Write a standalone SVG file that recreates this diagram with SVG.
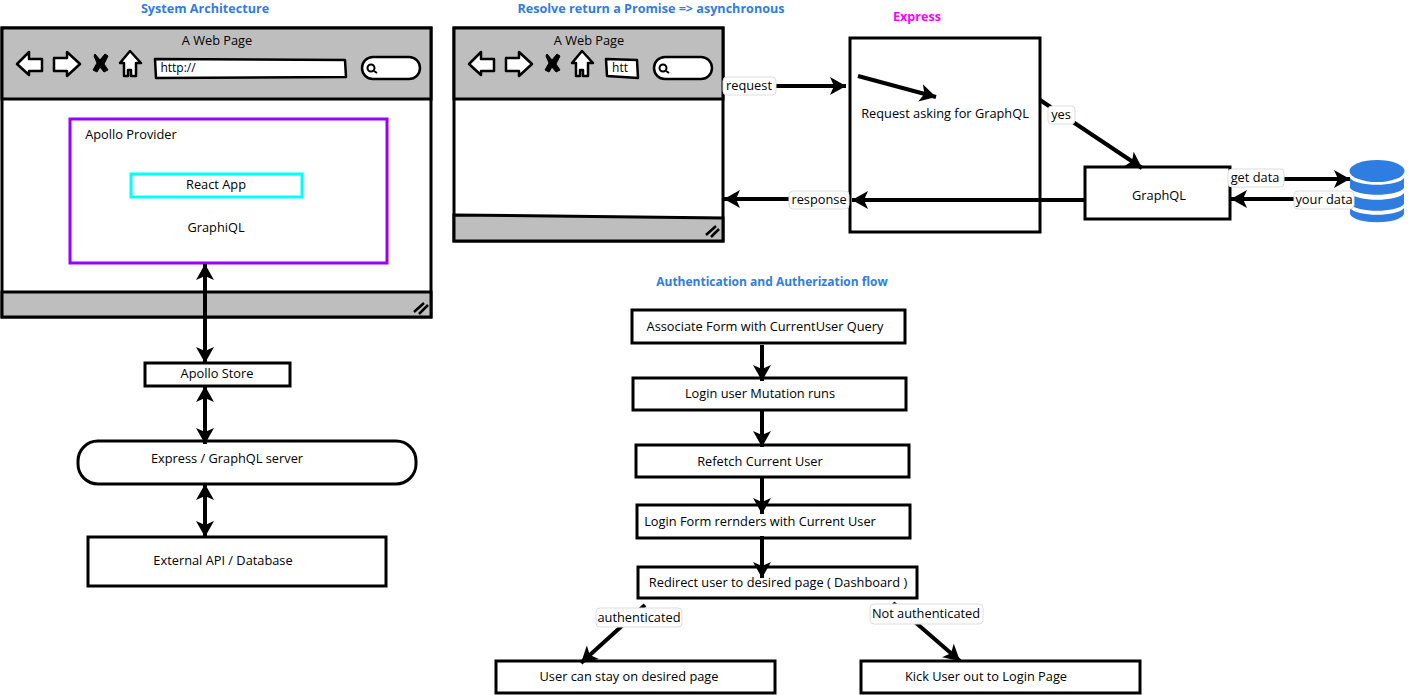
<svg xmlns="http://www.w3.org/2000/svg" width="1409" height="695" viewBox="0 0 1409 695">
<style>
text{font-family:"Open Sans","Liberation Sans",sans-serif;font-size:12.8px;fill:#000;text-anchor:middle}
.t{font-weight:700;fill:#2f7de1;font-size:12.6px}
.b{fill:#fff;stroke:#000;stroke-width:3}
.g{fill:#bebebe;stroke:#000;stroke-width:3}
.c{fill:none;stroke:#000;stroke-width:4;marker-end:url(#a)}
.d{fill:none;stroke:#000;stroke-width:4;marker-end:url(#a);marker-start:url(#s)}
.p{fill:#fff;stroke:#ddd;stroke-width:1}
.i{fill:#fff;stroke:#000;stroke-width:2.5;stroke-linejoin:round}
</style>
<defs>
<marker id="a" markerUnits="userSpaceOnUse" markerWidth="18" markerHeight="20" refX="16" refY="9" orient="auto"><path d="M0 0L16 9L0 18L4 9Z" fill="#000"/></marker>
<marker id="s" markerUnits="userSpaceOnUse" markerWidth="18" markerHeight="20" refX="0" refY="9" orient="auto"><path d="M16 0L0 9L16 18L12 9Z" fill="#000"/></marker>
<g id="nav">
<path class="i" d="M17 64L29 52V59H42V71H29V75Z"/>
<path class="i" d="M80 64L67 52V58H54V71H67V76Z"/>
<path d="M95 54L100 60L105 54L108 56L104 64L108 70L104 72L100 67L97 72L93 70L97 63L94 56Z" fill="#000" stroke="#000"/>
<path class="i" d="M130 51L141 63H136V76H131V70H128V76H124V63H120Z"/>
</g>
<g id="srch">
<rect class="i" x="362" y="57" width="58" height="22" rx="11"/>
<circle cx="371" cy="68" r="3.500" fill="none" stroke="#000" stroke-width="2"/>
<path d="M374 71L377 73" stroke="#000" stroke-width="2"/>
</g>
</defs>
<g id="titles">
<text class="t" x="205" y="13">System Architecture</text>
<text class="t" x="651" y="13">Resolve return a Promise =&gt; asynchronous</text>
<text class="t" x="917" y="21" style="fill:#f0f">Express</text>
<text class="t" x="772" y="286" style="font-size:12px">Authentication and Autherization flow</text>
</g>
<g id="browser-1">
<rect class="b" x="2" y="28" width="429" height="289"/>
<path class="g" d="M2 28H431V99H2Z"/>
<path class="g" d="M2 292H431V317H2Z"/>
<text x="217" y="45">A Web Page</text>
<use href="#nav"/>
<path class="i" d="M155 59L345 60L346 77L156 78Z"/>
<text x="178" y="72" style="font-size:12px">http://</text>
<use href="#srch"/>
<path d="M414 312L424 303M419 314L428 305" stroke="#000" stroke-width="2.500"/>
</g>
<g id="apollo-provider">
<rect x="70" y="119" width="317" height="144" fill="none" stroke="#90f" stroke-width="3"/>
<text x="131" y="139">Apollo Provider</text>
<text x="216" y="232">GraphiQL</text>
</g>
<g id="react-app">
<rect x="131" y="174" width="171" height="23" fill="none" stroke="#0ff" stroke-width="3"/>
<text x="216" y="189">React App</text>
</g>
<g id="apollo-store"><rect class="b" x="145" y="363" width="145" height="23"/><text x="217" y="378">Apollo Store</text></g>
<g id="express-server"><rect class="b" x="78" y="441" width="338" height="43" rx="20"/><text x="227" y="463">Express / GraphQL server</text></g>
<g id="external-api"><rect class="b" x="88" y="537" width="298" height="49"/><text x="223" y="565">External API / Database</text></g>
<g id="browser-2">
<rect class="b" x="454" y="28" width="269" height="213"/>
<path class="g" d="M454 28H723V99H454Z"/>
<path class="g" d="M454 215L723 218V241H454Z"/>
<text x="589" y="45">A Web Page</text>
<use href="#nav" x="452"/>
<path class="i" d="M606 59L637 60L638 78L607 76Z"/>
<text x="620" y="72" style="font-size:12px">htt</text>
<use href="#srch" x="292"/>
<path d="M706 235L716 226M711 237L719 229" stroke="#000" stroke-width="2.500"/>
</g>
<g id="express"><rect class="b" x="850" y="38" width="190" height="194"/><text x="945" y="118">Request asking for GraphQL</text></g>
<g id="graphql"><rect class="b" x="1085" y="167" width="145" height="52"/><text x="1159" y="200">GraphQL</text></g>
<g id="database" fill="#2f7de1">
<ellipse cx="1377" cy="171" rx="27.500" ry="11"/>
<path d="M1350 178C1356 187 1398 187 1404 178V188C1398 197 1356 197 1350 188Z"/>
<path d="M1350 193C1356 202 1398 202 1404 193V204C1398 213 1356 213 1350 204Z"/>
<path d="M1350 208C1356 217 1398 217 1404 208V214C1400 225 1354 225 1350 214Z"/>
</g>
<g id="f1"><rect class="b" x="632" y="310" width="273" height="33"/><text x="765" y="331">Associate Form with CurrentUser Query</text></g>
<g id="f2"><rect class="b" x="633" y="378" width="273" height="32"/><text x="760" y="398">Login user Mutation runs</text></g>
<g id="f3"><rect class="b" x="636" y="445" width="273" height="32"/><text x="760" y="466">Refetch Current User</text></g>
<g id="f4"><rect class="b" x="637" y="505" width="273" height="33"/><text x="760" y="526">Login Form rernders with Current User</text></g>
<g id="f5"><rect class="b" x="638" y="567" width="279" height="31"/><text x="778" y="587">Redirect user to desired page ( Dashboard )</text></g>
<g id="f6"><rect class="b" x="496" y="661" width="279" height="32"/><text x="629" y="681">User can stay on desired page</text></g>
<g id="f7"><rect class="b" x="861" y="661" width="279" height="32"/><text x="986" y="681">Kick User out to Login Page</text></g>
<g id="connectors">
<path class="d" d="M205 264V363"/>
<path class="d" d="M205 386V444"/>
<path class="d" d="M205 484V537"/>
<path class="c" d="M723 86H846"/>
<path class="c" d="M858 76L936 97"/>
<path class="c" d="M1040 100L1142 168"/>
<path class="c" d="M1085 200H852"/>
<path class="c" d="M849 199H724"/>
<path class="c" d="M1230 179H1350"/>
<path class="c" d="M1350 199H1231"/>
<path class="c" d="M762 345V381"/>
<path class="c" d="M762 411V447"/>
<path class="c" d="M762 477V514"/>
<path class="c" d="M762 536V578"/>
<path class="c" d="M645 605L581 663"/>
<path class="c" d="M893 603L960 661"/>
<rect class="p" x="723" y="77" width="53" height="18" rx="4"/><text x="749" y="90">request</text>
<rect class="p" x="789" y="191" width="60" height="18" rx="4"/><text x="819" y="204">response</text>
<rect class="p" x="1048" y="106" width="27" height="18" rx="4"/><text x="1061" y="119">yes</text>
<rect class="p" x="1228" y="169" width="56" height="18" rx="4"/><text x="1255" y="182">get data</text>
<rect class="p" x="1294" y="191" width="60" height="18" rx="4"/><text x="1324" y="204">your data</text>
<rect class="p" x="596" y="608" width="86" height="19" rx="4"/><text x="639" y="622">authenticated</text>
<rect class="p" x="870" y="604" width="113" height="20" rx="4"/><text x="926" y="618">Not authenticated</text>
</g>
</svg>
